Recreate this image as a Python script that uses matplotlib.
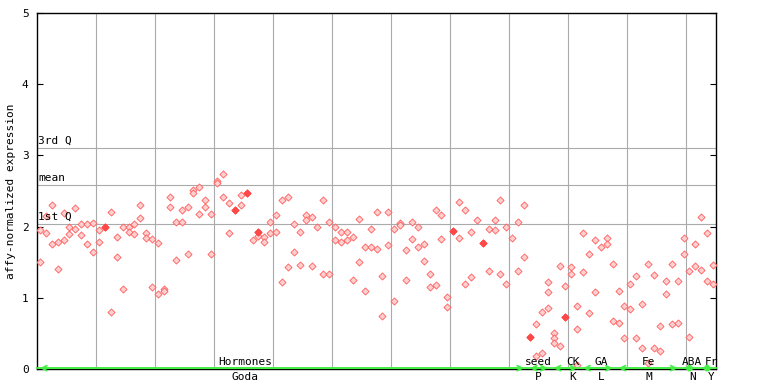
import matplotlib
matplotlib.use("Agg")
import matplotlib.pyplot as plt
import numpy as np

# replicate values per sample, grouped by experiment series
hormones_vals = [
    [1.95, 1.50], [2.15, 1.91], [2.30, 1.75], [1.78, 1.40], [2.19, 1.81],
    [1.99, 1.89], [2.26, 1.96], [2.03, 1.88], [2.03, 1.75], [2.05, 1.65],
    [1.95, 1.79], [2.00, 2.00], [2.20, 0.80], [1.85, 1.58], [2.00, 1.13],
    [2.00, 1.92], [2.03, 1.89], [2.31, 2.12], [1.91, 1.84], [1.82, 1.15],
    [1.77, 1.06], [1.12, 1.09], [2.41, 2.27], [2.06, 1.53], [2.24, 2.07],
    [2.28, 1.61], [2.51, 2.47], [2.55, 2.17], [2.37, 2.27], [2.17, 1.61],
    [2.64, 2.61], [2.74, 2.42], [2.33, 1.91], [2.24, 2.24], [2.44, 2.31],
    [2.47, 2.47], [1.81], [1.92, 1.92, 1.87], [1.86, 1.79], [2.06, 1.91],
    [2.16, 1.93], [2.37, 1.22], [2.41, 1.43], [2.04, 1.64], [1.93, 1.46],
    [2.16, 2.09], [2.13, 1.44], [1.99], [2.37, 1.34], [2.06, 1.33],
    [2.00, 1.81], [1.92, 1.78], [1.93, 1.81], [1.85, 1.25], [2.10, 1.50],
    [1.71, 1.09], [1.97, 1.72], [2.20, 1.68], [1.30, 0.74], [2.20, 1.74],
    [1.96, 0.96], [2.05, 2.02], [1.67, 1.25], [2.06, 1.82], [1.99, 1.71],
    [1.75, 1.51], [1.34, 1.15], [2.24, 1.18], [2.16, 1.82], [1.01, 0.87],
    [1.94, 1.94], [2.34, 1.84], [2.23, 1.20], [1.93, 1.29], [2.09],
    [1.77, 1.77], [1.96, 1.37], [2.09, 1.95], [2.38, 1.34], [1.99, 1.20],
    [1.84], [2.06, 1.37], [2.31, 1.58],
]
seed_vals = [[0.45, 0.45], [0.63, 0.18], [0.80, 0.22], [1.22, 1.08, 0.85]]
ck_vals = [[0.50, 0.43, 0.36], [1.44, 0.32], [1.16, 0.73, 0.73],
           [1.43, 1.34], [0.89, 0.56, 0.05]]
ga_vals = [[1.91, 1.36], [1.62, 0.78], [1.81, 1.08], [1.71],
           [1.84, 1.75], [1.48, 0.68]]
fe_vals = [[1.09, 0.64], [0.89, 0.43], [1.20, 0.84], [1.30, 0.43],
           [0.91, 0.29], [1.48, 0.08], [1.32, 0.29], [0.60, 0.25],
           [1.23, 1.06], [1.47, 0.63], [1.23, 0.64]]
aba_vals = [[1.84, 1.61], [1.37, 0.45], [1.75, 1.44]]
fr_vals = [[2.13, 1.39], [1.91, 1.23], [1.46, 1.19]]

group_names = ["Hormones", "seed", "CK", "GA", "Fe", "ABA", "Fr"]
group_codes = ["Goda", "P", "K", "L", "M", "N", "Y"]
group_vals = [hormones_vals, seed_vals, ck_vals, ga_vals, fe_vals, aba_vals, fr_vals]

q3_value = 3.10
mean_value = 2.58
q1_value = 2.04

# label centres in sample units (layout only)
label_pos = [35.3, 84.9, 90.7, 95.6, 103.6, 111.0, 114.2]

FONT = "DejaVu Sans Mono"
GREEN = "#44ee44"
GRID = "#aaaaaa"

fig = plt.figure(figsize=(7.68, 3.84), dpi=100)
ax = fig.add_axes([37 / 768, 15 / 384, 679 / 768, 356 / 384])

samples = [s for g in group_vals for s in g]
n = len(samples)

xs, ys, fx, fy = [], [], [], []
for i, reps in enumerate(samples):
    for v in reps:
        if reps.count(v) > 1:
            fx.append(i + 0.5)
            fy.append(v)
        else:
            xs.append(i + 0.5)
            ys.append(v)

ax.scatter(xs, ys, marker="D", s=13, facecolor="#ffd0d0", edgecolor="#ff5a5a",
           linewidth=0.6, zorder=3)
ax.scatter(fx, fy, marker="D", s=13, facecolor="#ff4848", edgecolor="#ff4848",
           linewidth=0.6, zorder=3)

ax.set_xlim(0, n)
ax.set_ylim(0, 5)

for gx in range(10, n, 10):
    ax.axvline(gx, color=GRID, lw=0.8, zorder=1)
for level, name in [(q3_value, "3rd Q"), (mean_value, "mean"), (q1_value, "1st Q")]:
    ax.axhline(level, color=GRID, lw=0.8, zorder=1)
    ax.annotate(name, (0, level), xytext=(1, 1.5), textcoords="offset points",
                fontsize=8, family=FONT, va="bottom", ha="left")

# group arrows along the baseline
ax.plot([0, n], [0.012, 0.012], color=GREEN, lw=1.3, zorder=4, clip_on=False)
start = 0
for name, code, vals, lx in zip(group_names, group_codes, group_vals, label_pos):
    end = start + len(vals)
    ax.annotate("", xy=(end - 0.5, 0.012), xytext=(start + 0.5, 0.012),
                arrowprops=dict(arrowstyle="<->,head_length=0.35,head_width=0.18",
                                color=GREEN, lw=1.3, shrinkA=0, shrinkB=0),
                zorder=5, annotation_clip=False)
    ax.annotate(name, (lx, 0), xytext=(0, 1.5), textcoords="offset points",
                fontsize=8, family=FONT, ha="center", va="bottom")
    ax.annotate(code, (lx, 0), xytext=(0, -2), textcoords="offset points",
                fontsize=8, family=FONT, ha="center", va="top",
                annotation_clip=False)
    start = end

ax.set_xticks([])
ax.set_yticks([0, 1, 2, 3, 4, 5])
ax.tick_params(axis="y", direction="in", length=4.3, width=0.8, right=True,
               labelsize=8, pad=6)
for lab in ax.get_yticklabels():
    lab.set_family(FONT)
for spine in ax.spines.values():
    spine.set_linewidth(1.0)
ax.set_ylabel("affy-normalized expression", fontsize=8, family=FONT, labelpad=4)

fig.savefig("out.png", dpi=100)
